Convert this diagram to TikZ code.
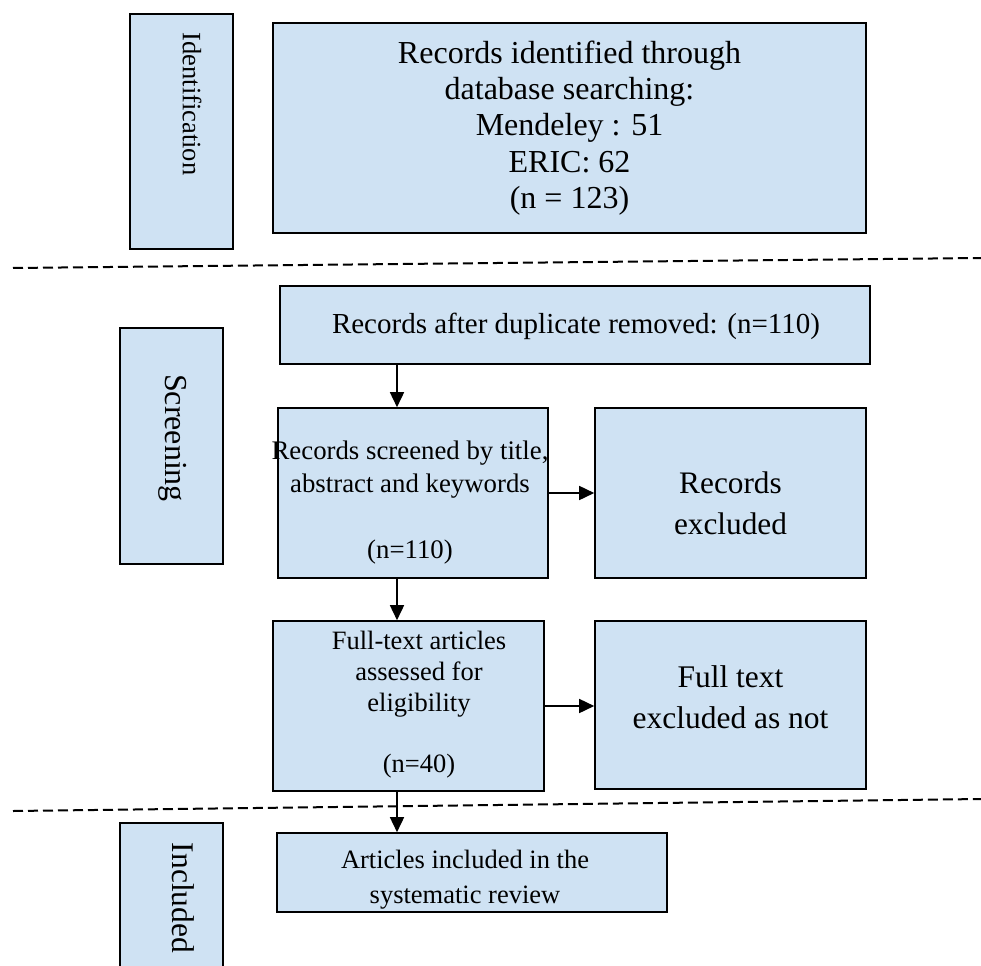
\documentclass[tikz,border=0pt]{standalone}
\usepackage{fontspec}
\setmainfont{Liberation Serif}
\usetikzlibrary{arrows.meta}
\definecolor{boxfill}{HTML}{CFE2F3}
\begin{document}
\begin{tikzpicture}[x=1pt,y=-1pt,
  box/.style={draw=black, line width=1.6pt, fill=boxfill, rectangle, inner sep=0pt},
  txt/.style={align=center, inner sep=0pt, text=black},
  arr/.style={line width=1.6pt, -{Triangle[length=15pt,width=14pt]}},
  sepline/.style={line width=2pt, dash pattern=on 10pt off 5pt}]
\useasboundingbox (0,0) rectangle (981,965);

% separators
\coordinate (d1a) at (13,268);
\coordinate (d1b) at (981,258);
\coordinate (d2a) at (13,811);
\coordinate (d2b) at (981,799);
\draw[sepline] (d1a) -- (d1b);
\draw[sepline] (d2a) -- (d2b);

% side labels
\node[box, minimum width=103pt, minimum height=235pt] (idlab) at (181.5,131.5) {};
\node[txt, rotate=-90, font=\fontsize{26.5}{32}\selectfont] (idt) at (192,104) {Identification};
\node[box, minimum width=103pt, minimum height=236pt] (scrlab) at (171.5,446) {};
\node[txt, rotate=-90, font=\fontsize{32}{36}\selectfont] (scrlt) at (172.5,438) {Screening};
\node[box, minimum width=103pt, minimum height=170pt] (inclab) at (171.5,908) {};
\node[txt, rotate=-90, font=\fontsize{31.5}{36}\selectfont] (inclt) at (183.5,898) {Included};

% main boxes
\node[box, minimum width=593pt, minimum height=210pt] (top) at (569.5,128) {};
\node[txt, font=\fontsize{32}{36.25}\selectfont] (topt) at (569.5,128)
  {Records identified through\\database searching:\\Mendeley : 51\\ERIC: 62\\(n = 123)};

\node[box, minimum width=590pt, minimum height=78pt] (dup) at (575,325) {};
\node[txt, font=\fontsize{29}{35}\selectfont] (dupt) at (576,326)
  {Records after duplicate removed: (n=110)};

\node[box, minimum width=270pt, minimum height=170pt] (scr) at (413,493) {};
\node[txt, font=\fontsize{26.8}{33}\selectfont] (scrt) at (410,502.5)
  {Records screened by title,\\abstract and keywords\\[33pt](n=110)};

\node[box, minimum width=271pt, minimum height=170pt] (rex) at (730.5,493) {};
\node[txt, font=\fontsize{31.3}{41}\selectfont] (rext) at (730.5,503)
  {Records\\excluded};

\node[box, minimum width=271pt, minimum height=170pt] (ft) at (408.5,706) {};
\node[txt, font=\fontsize{26.5}{30.75}\selectfont] (ftt) at (419,705)
  {Full-text articles\\assessed for\\eligibility\\[30.75pt](n=40)};

\node[box, minimum width=271pt, minimum height=168pt] (fex) at (730.5,705) {};
\node[txt, font=\fontsize{31.5}{41}\selectfont] (fext) at (730.5,697)
  {Full text\\excluded as not};

\node[box, minimum width=390pt, minimum height=79pt] (art) at (472,872.5) {};
\node[txt, font=\fontsize{26.5}{35}\selectfont] (artt) at (465,879.5)
  {Articles included in the\\systematic review};

% connectors
\coordinate (ax) at (397,0);
\draw[arr] (ax |- dup.south) -- (ax |- scr.north);
\draw[arr] (ax |- scr.south) -- (ax |- ft.north);
\draw[arr] (scr.east) -- (rex.west);
\draw[arr] (ft.east) -- (ft.east -| fex.west);
\draw[arr] (ax |- ft.south) -- (ax |- art.north);
\end{tikzpicture}
\end{document}
